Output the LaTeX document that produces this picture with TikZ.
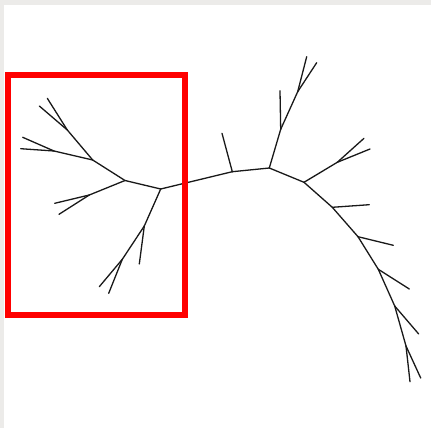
\documentclass[tikz,border=0pt]{standalone}
\usepackage{tikz}
\usepackage{xcolor}
\definecolor{framegray}{RGB}{236,235,233}
\tikzset{
  branch/.style = {draw=black!90, line width=1.3pt, line cap=round},
  focus/.style  = {draw=red, line width=6pt}
}

\begin{document}
\begin{tikzpicture}[x=1pt, y=-1pt]
% Canvas with the grey edge at top and left
\fill[framegray] (0,0) rectangle (431,428);
\fill[white] (4,5.5) rectangle (431,428);
\useasboundingbox (0,0) rectangle (431,428);
% Inner nodes
\coordinate (root) at (160.7,189);
\coordinate (nL) at (125,180.5);
\coordinate (nAB) at (92.7,160);
\coordinate (nA) at (67.3,130);
\coordinate (nB) at (54,151);
\coordinate (nC) at (89.3,195);
\coordinate (nD) at (144.3,226);
\coordinate (nE) at (122.3,259.3);
\coordinate (nF) at (232.3,171.7);
\coordinate (nG) at (269.3,168);
\coordinate (nI) at (280.7,129.3);
\coordinate (nK) at (297.7,91.7);
\coordinate (nH) at (304,182.3);
\coordinate (nM) at (337.3,162.3);
\coordinate (nN) at (332.3,207.3);
\coordinate (nO) at (358,236.7);
\coordinate (nP) at (378.3,269.3);
\coordinate (nQ) at (394.7,306);
\coordinate (nR) at (406,346);
% Leaves
\coordinate (a1) at (47.3,98.3);
\coordinate (a2) at (39.3,106);
\coordinate (b1) at (22.7,137.3);
\coordinate (b2) at (20.7,148.7);
\coordinate (c1) at (54.7,203.3);
\coordinate (c2) at (59,214.3);
\coordinate (d1) at (139.3,264);
\coordinate (e1) at (99.3,286.7);
\coordinate (e2) at (108.7,293.3);
\coordinate (f1) at (222,133.3);
\coordinate (i1) at (280,90.7);
\coordinate (k1) at (306.7,56.7);
\coordinate (k2) at (316.7,62.7);
\coordinate (m1) at (364,138.3);
\coordinate (m2) at (370,149);
\coordinate (n1) at (369.3,204.7);
\coordinate (o1) at (393.3,245.3);
\coordinate (p1) at (409.3,289);
\coordinate (q1) at (418.7,334);
\coordinate (r1) at (410,381.7);
\coordinate (r2) at (420.7,378);
% Branches
\foreach \from/\to in {root/nL, root/nD, root/nF, nL/nAB, nL/nC, nAB/nA, nAB/nB,
    nA/a1, nA/a2, nB/b1, nB/b2, nC/c1, nC/c2, nD/d1, nD/nE, nE/e1, nE/e2,
    nF/f1, nF/nG, nG/nI, nG/nH, nI/i1, nI/nK, nK/k1, nK/k2,
    nH/nM, nH/nN, nM/m1, nM/m2, nN/n1, nN/nO, nO/o1, nO/nP,
    nP/p1, nP/nQ, nQ/q1, nQ/nR, nR/r1, nR/r2}
  \draw[branch] (\from) -- (\to);
% Highlight box
\draw[focus] (7.5,75) rectangle (185,315);
\end{tikzpicture}
\end{document}
